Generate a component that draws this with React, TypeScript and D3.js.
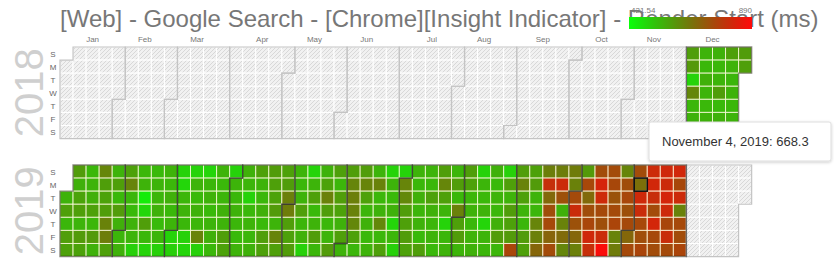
import React from "react";
import * as d3 from "d3";

const TITLE = "[Web] - Google Search - [Chrome][Insight Indicator] - Render Start (ms)";
const MONTH_LABELS = ["Jan", "Feb", "Mar", "Apr", "May", "Jun", "Jul", "Aug", "Sep", "Oct", "Nov", "Dec"];
const DAY_LABELS = ["S", "M", "T", "W", "T", "F", "S"];
const YEARS = [2018, 2019];
const LEGEND_MIN = 421.54;
const LEGEND_MAX = 890;

// daily values (ms), one array per month with data
const dec2018 = [545, 582, 591, 493, 624, 541, 548, 543, 547, 539, 551, 544, 538, 546, 542, 549, 540, 545, 584, 537, 550, 543, 579, 546, 541, 548, 539, 544, 547, 586, 581];
const jan2019 = [548, 579, 541, 583, 577, 586, 552, 574, 581, 544, 588, 576, 539, 547, 553, 578, 542, 590, 549, 626, 582, 575, 584, 633, 641, 579, 546, 581, 538, 587, 551];
const feb2019 = [543, 550, 577, 628, 541, 536, 548, 544, 497, 540, 546, 452, 488, 583, 539, 493, 537, 545, 541, 549, 535, 543, 498, 547, 540, 552, 538, 544];
const mar2019 = [492, 499, 494, 487, 541, 546, 539, 496, 490, 493, 544, 537, 549, 542, 631, 497, 489, 541, 548, 536, 544, 551, 540, 546, 538, 543, 550, 547, 582, 576, 495];
const apr2019 = [544, 539, 548, 541, 536, 547, 550, 543, 494, 538, 545, 541, 549, 579, 546, 540, 551, 537, 583, 577, 586, 580, 575, 588, 544, 629, 581, 578, 584, 637];
const may2019 = [642, 583, 577, 586, 545, 539, 548, 581, 543, 550, 496, 491, 544, 579, 537, 546, 585, 541, 548, 576, 634, 582, 540, 545, 587, 579, 542, 584, 575, 549, 581];
const jun2019 = [547, 583, 627, 638, 632, 624, 578, 541, 585, 629, 577, 543, 549, 538, 546, 544, 633, 540, 548, 622, 539, 580, 493, 545, 537, 550, 489, 542, 497, 491];
const jul2019 = [628, 621, 584, 579, 586, 577, 546, 539, 551, 543, 548, 537, 582, 544, 540, 578, 549, 542, 547, 538, 583, 626, 580, 545, 492, 541, 547, 543, 585, 539, 635];
const aug2019 = [579, 586, 544, 582, 577, 541, 548, 539, 546, 550, 494, 543, 538, 547, 490, 545, 541, 549, 536, 544, 540, 551, 587, 542, 496, 581, 546, 584, 578, 589, 748];
const sep2019 = [583, 630, 579, 545, 541, 586, 580, 577, 588, 547, 542, 628, 636, 684, 639, 795, 679, 731, 742, 688, 737, 641, 806, 728, 551, 632, 675, 625, 643, 634];
const oct2019 = [739, 803, 726, 682, 637, 589, 744, 677, 733, 748, 812, 798, 735, 822, 809, 741, 729, 804, 882, 737, 745, 722, 739, 751, 631, 644, 627, 733, 746, 727, 741];
const nov2019 = [683, 741, 736, 668.3, 811, 803, 744, 732, 749, 807, 815, 799, 738, 818, 743, 736, 813, 806, 821, 809, 747, 801, 739, 816, 745, 808, 633, 742, 736, 751];

const MONTH_SERIES = [
  { year: 2018, month: 11, values: dec2018 },
  { year: 2019, month: 0, values: jan2019 },
  { year: 2019, month: 1, values: feb2019 },
  { year: 2019, month: 2, values: mar2019 },
  { year: 2019, month: 3, values: apr2019 },
  { year: 2019, month: 4, values: may2019 },
  { year: 2019, month: 5, values: jun2019 },
  { year: 2019, month: 6, values: jul2019 },
  { year: 2019, month: 7, values: aug2019 },
  { year: 2019, month: 8, values: sep2019 },
  { year: 2019, month: 9, values: oct2019 },
  { year: 2019, month: 10, values: nov2019 },
];

const TOOLTIP_DAY = { year: 2019, month: 10, day: 4 };

const W = 834;
const H = 277;
const X0 = 60;
const CW = 13.05;
const CH = 13.08;
const YEAR_TOP: Record<number, number> = { 2018: 47, 2019: 165 };

const key = (d: Date) => `${d.getFullYear()}-${d.getMonth()}-${d.getDate()}`;

const valueMap = new Map<string, number>();
MONTH_SERIES.forEach((s) => {
  s.values.forEach((v, i) => valueMap.set(key(new Date(s.year, s.month, i + 1)), v));
});

const color = d3
  .scaleLinear<string>()
  .domain([LEGEND_MIN, LEGEND_MAX])
  .range(["#0aff0a", "#ff0a0a"])
  .interpolate(d3.interpolateRgb.gamma(0.8));

const weekOf = (d: Date) => d3.timeWeek.count(d3.timeYear(d), d);

function monthPath(t0: Date) {
  const t1 = new Date(t0.getFullYear(), t0.getMonth() + 1, 0);
  const d0 = t0.getDay();
  const w0 = weekOf(t0);
  const d1 = t1.getDay();
  const w1 = weekOf(t1);
  return (
    `M${(w0 + 1) * CW},${d0 * CH}` +
    `H${w0 * CW}V${7 * CH}` +
    `H${w1 * CW}V${(d1 + 1) * CH}` +
    `H${(w1 + 1) * CW}V0` +
    `H${(w0 + 1) * CW}Z`
  );
}

export default function App() {
  const font = "'Liberation Sans', Arial, Helvetica, sans-serif";
  const legendX = 629;
  const legendW = 123;
  const legendY = 17;
  const legendH = 12;
  const stops = d3.range(0, 1.0001, 0.1).map((t) => ({
    t,
    c: color(LEGEND_MIN + t * (LEGEND_MAX - LEGEND_MIN)),
  }));

  const tipDate = new Date(TOOLTIP_DAY.year, TOOLTIP_DAY.month, TOOLTIP_DAY.day);
  const tipValue = valueMap.get(key(tipDate));
  const tipText = `${d3.timeFormat("%B %-d, %Y")(tipDate)}: ${tipValue}`;

  return (
    <svg
      width={W}
      height={H}
      style={{ position: "absolute", left: 0, top: 0, background: "#fff" }}
      fontFamily={font}
    >
      <defs>
        <pattern id="hatch" patternUnits="userSpaceOnUse" width={4} height={4}>
          <rect width={4} height={4} fill="#f1f1f1" />
          <path d="M-1,1 l2,-2 M0,4 l4,-4 M3,5 l2,-2" stroke="#d2d2d2" strokeWidth={0.8} />
        </pattern>
        <linearGradient id="legendGrad" x1="0" x2="1" y1="0" y2="0">
          {stops.map((s) => (
            <stop key={s.t} offset={`${s.t * 100}%`} stopColor={s.c} />
          ))}
        </linearGradient>
        <filter id="shadow" x="-10%" y="-30%" width="120%" height="160%">
          <feDropShadow dx={0} dy={1} stdDeviation={1.5} floodColor="#000" floodOpacity={0.2} />
        </filter>
      </defs>

      <text x={60} y={27} fontSize={24} fill="#777">
        {TITLE}
      </text>

      {MONTH_LABELS.map((m, i) => {
        const t0 = new Date(YEARS[0], i, 1);
        const t1 = new Date(YEARS[0], i + 1, 0);
        const x = X0 + ((weekOf(t0) + weekOf(t1) + 1) / 2) * CW;
        return (
          <text key={m} x={x} y={42} fontSize={8} fill="#777" textAnchor="middle">
            {m}
          </text>
        );
      })}

      {YEARS.map((year) => {
        const top = YEAR_TOP[year];
        const days = d3.timeDays(new Date(year, 0, 1), new Date(year + 1, 0, 1));
        const monthsStart = d3.timeMonths(new Date(year, 0, 1), new Date(year + 1, 0, 1));
        const hasData = (m: Date) => valueMap.has(key(new Date(m.getFullYear(), m.getMonth(), 15)));
        return (
          <g key={year}>
            <text
              transform={`translate(43,${top + 3.5 * CH}) rotate(-90)`}
              fontSize={40}
              fill="#cfcfcf"
              textAnchor="middle"
            >
              {year}
            </text>
            {DAY_LABELS.map((d, i) => (
              <text
                key={i}
                x={53}
                y={top + (i + 0.5) * CH + 3}
                fontSize={8}
                fill="#666"
                textAnchor="middle"
              >
                {d}
              </text>
            ))}
            <g transform={`translate(${X0},${top})`}>
              {days.map((d) => {
                const v = valueMap.get(key(d));
                return (
                  <rect
                    key={key(d)}
                    x={weekOf(d) * CW}
                    y={d.getDay() * CH}
                    width={CW}
                    height={CH}
                    fill={v === undefined ? "url(#hatch)" : color(v)}
                    stroke={v === undefined ? "#fff" : "#fffbe0"}
                    strokeOpacity={v === undefined ? 1 : 0.8}
                    strokeWidth={1}
                  />
                );
              })}
              {monthsStart
                .filter((m) => !hasData(m))
                .map((m) => (
                  <path key={`e${m.getMonth()}`} d={monthPath(m)} fill="none" stroke="#c4c4c4" strokeWidth={1.2} />
                ))}
              {monthsStart
                .filter((m) => hasData(m))
                .map((m) => (
                  <path
                    key={`f${m.getMonth()}`}
                    d={monthPath(m)}
                    fill="none"
                    stroke="#000"
                    strokeOpacity={0.45}
                    strokeWidth={1.4}
                  />
                ))}
              {tipDate.getFullYear() === year && (
                <rect
                  x={weekOf(tipDate) * CW}
                  y={tipDate.getDay() * CH}
                  width={CW}
                  height={CH}
                  fill="none"
                  stroke="#111"
                  strokeWidth={1.6}
                />
              )}
            </g>
          </g>
        );
      })}

      <rect x={legendX} y={legendY} width={legendW} height={legendH} fill="url(#legendGrad)" />
      <text x={legendX + 2} y={13} fontSize={8} fill="#777">
        {LEGEND_MIN}
      </text>
      <text x={legendX + legendW} y={13} fontSize={8} fill="#777" textAnchor="end">
        {LEGEND_MAX}
      </text>

      <g filter="url(#shadow)">
        <rect x={649} y={122} width={182} height={39} fill="#fff" stroke="#ddd" strokeWidth={1} rx={2} />
      </g>
      <text x={662} y={146} fontSize={13} fill="#333">
        {tipText}
      </text>
    </svg>
  );
}
